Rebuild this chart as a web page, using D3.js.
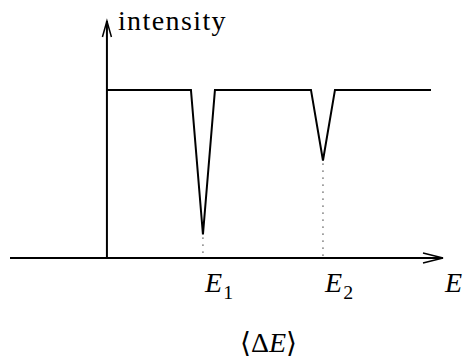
<!DOCTYPE html>
<html>
<head>
<meta charset="utf-8">
<script src="https://cdn.jsdelivr.net/npm/d3@7"></script>
<style>
  html, body { margin: 0; padding: 0; background: #fff; }
  svg { display: block; }
</style>
</head>
<body>
<svg id="chart" width="467" height="362"></svg>
<script>
// Absorption spectrum: flat intensity with two dips at E1 and E2
const energy    = [0, 2.8, 3.2, 3.6, 6.8, 7.2, 7.6, 10.8];
const intensity = [1, 1, 0.14, 1, 1, 0.58, 1, 1];
const lineNames = ["E", "E"];
const lineSubs  = ["1", "2"];
const lineE     = [3.2, 7.2];
const lineDepth = [0.14, 0.58];
const axisLabelX = "E";
const axisLabelY = "intensity";
const footLabel  = ["\u27E8", "\u0394", "E", "\u27E9"];

const SERIF = "Liberation Serif";
// labels are set at 24px and enlarged with a transform
const K = 28 / 24;
const place = (px, py) => `translate(${px},${py}) scale(${K})`;

const svg = d3.select("#chart");

// E = 0 sits on the vertical axis; axis line runs past it to the left
const x = d3.scaleLinear().domain([-3.23, 11.2]).range([10, 443]);
const y = d3.scaleLinear().domain([0, 1.41]).range([258, 21]);

const ax = svg.append("g")
  .attr("fill", "none").attr("stroke", "#000").attr("stroke-width", 2);

// horizontal axis with open arrowhead
ax.append("line")
  .attr("x1", x(-3.23)).attr("x2", x(11.2))
  .attr("y1", y(0)).attr("y2", y(0));
ax.append("path")
  .attr("stroke-width", 1.5)
  .attr("d", `M${x(11.2) - 20},${y(0) - 5}L${x(11.2)},${y(0)}L${x(11.2) - 20},${y(0) + 5}`);

// vertical axis with open arrowhead
ax.append("line")
  .attr("x1", x(0)).attr("x2", x(0))
  .attr("y1", y(0)).attr("y2", y(1.41));
ax.append("path")
  .attr("stroke-width", 1.5)
  .attr("d", `M${x(0) - 4.5},${y(1.41) + 16}L${x(0)},${y(1.41)}L${x(0) + 4.5},${y(1.41) + 16}`);

// dotted drop lines from each dip minimum to the axis
ax.append("g").selectAll("line")
  .data(lineE)
  .join("line")
  .attr("x1", d => x(d)).attr("x2", d => x(d))
  .attr("y1", (d, i) => y(lineDepth[i]) + 3)
  .attr("y2", y(0) - 2)
  .attr("stroke", "#333")
  .attr("stroke-width", 1.2)
  .attr("stroke-dasharray", "1.2 5.8");

// spectrum line
const pts = energy.map((e, i) => [e, intensity[i]]);
ax.append("path")
  .datum(pts)
  .attr("stroke-linejoin", "miter")
  .attr("d", d3.line().x(d => x(d[0])).y(d => y(d[1])));

// y-axis label
svg.append("text")
  .attr("transform", place(x(0) + 11, 30))
  .attr("font-family", SERIF)
  .attr("font-size", 24)
  .attr("letter-spacing", 1.2)
  .text(axisLabelY);

// dip labels E1, E2
const lab = svg.append("g").selectAll("text")
  .data(lineE)
  .join("text")
  .attr("transform", d => place(x(d) + 2, 292))
  .attr("font-family", SERIF)
  .attr("font-size", 24);
lab.append("tspan").attr("font-style", "italic").text((d, i) => lineNames[i]);
lab.append("tspan").attr("font-size", 17).attr("dx", 1).attr("dy", 6).text((d, i) => lineSubs[i]);

// x-axis label
svg.append("text")
  .attr("transform", place(445, 292))
  .attr("font-family", SERIF)
  .attr("font-size", 24).attr("font-style", "italic")
  .text(axisLabelX);

// footnote label
const foot = svg.append("text")
  .attr("transform", place(240, 352))
  .attr("font-family", SERIF)
  .attr("font-size", 24);
foot.append("tspan").attr("font-family", "DejaVu Serif").text(footLabel[0]);
foot.append("tspan").text(footLabel[1]);
foot.append("tspan").attr("font-style", "italic").text(footLabel[2]);
foot.append("tspan").attr("font-family", "DejaVu Serif").text(footLabel[3]);
</script>
</body>
</html>
